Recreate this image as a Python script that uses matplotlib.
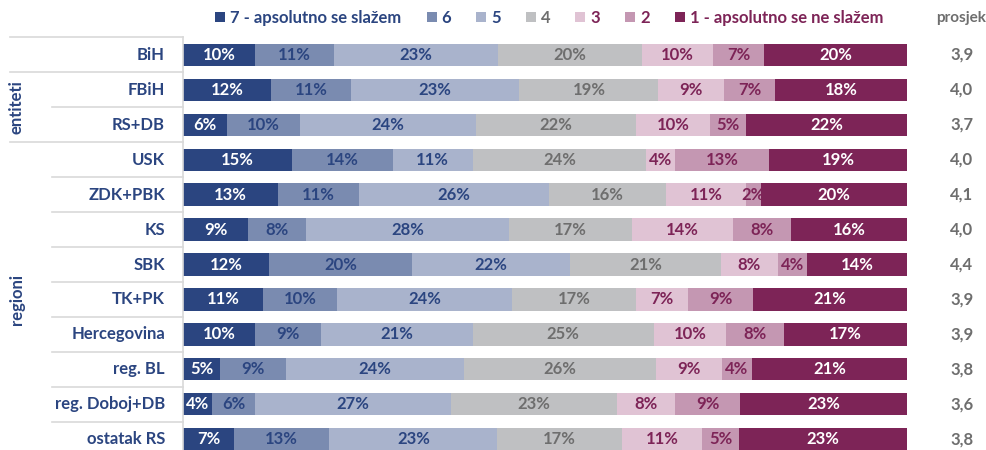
import numpy as np
import matplotlib.pyplot as plt
from matplotlib.patches import Patch
from matplotlib.transforms import blended_transform_factory

plt.rcParams['font.family'] = ['Lato', 'DejaVu Sans']
plt.rcParams['font.weight'] = 'bold'

categories = ['BiH', 'FBiH', 'RS+DB', 'USK', 'ZDK+PBK', 'KS', 'SBK', 'TK+PK',
              'Hercegovina', 'reg. BL', 'reg. Doboj+DB', 'ostatak RS']
series_names = ['7 - apsolutno se slažem', '6', '5', '4', '3', '2', '1 - apsolutno se ne slažem']
s7 = [10, 12, 6, 15, 13, 9, 12, 11, 10, 5, 4, 7]
s6 = [11, 11, 10, 14, 11, 8, 20, 10, 9, 9, 6, 13]
s5 = [23, 23, 24, 11, 26, 28, 22, 24, 21, 24, 27, 23]
s4 = [20, 19, 22, 24, 16, 17, 21, 17, 25, 26, 23, 17]
s3 = [10, 9, 10, 4, 11, 14, 8, 7, 10, 9, 8, 11]
s2 = [7, 7, 5, 13, 2, 8, 4, 9, 8, 4, 9, 5]
s1 = [20, 18, 22, 19, 20, 16, 14, 21, 17, 21, 23, 23]
prosjek = ['3,9', '4,0', '3,7', '4,0', '4,1', '4,0', '4,4', '3,9', '3,9', '3,8', '3,6', '3,8']

navy = '#2b4580'
purple = '#7d2457'
grey_txt = '#6e6e6e'
colors = ['#2b4580', '#7a8bb0', '#a9b3cc', '#bfc0c2', '#e0c3d4', '#c497b2', '#7d2457']
txt_colors = ['white', navy, navy, grey_txt, purple, purple, 'white']
leg_colors = [navy, navy, navy, grey_txt, purple, purple, purple]
fs = 12

W, H = 986, 450
fig = plt.figure(figsize=(W / 100, H / 100), dpi=100)
ax = fig.add_axes([183 / W, 0, (907 - 183) / W, 1 - 37.5 / H])

data = np.array([s7, s6, s5, s4, s3, s2, s1], dtype=float)
totals = data.sum(axis=0)
y = np.arange(len(categories))
left = np.zeros(len(categories))
for i, row in enumerate(data):
    w = row / totals * 100
    ax.barh(y, w, left=left, height=0.64, color=colors[i], edgecolor='none')
    for j in range(len(categories)):
        ax.text(left[j] + w[j] / 2, y[j], f'{int(row[j])}%', ha='center', va='center',
                color=txt_colors[i], fontsize=fs, fontweight='bold')
    left += w

ax.set_xlim(0, 100)
ax.set_ylim(11.31, -0.5)
ax.set_xticks([])
ax.set_yticks([])
for s in ['top', 'right', 'bottom']:
    ax.spines[s].set_visible(False)
ax.spines['left'].set_color('#d9d9d9')
ax.spines['left'].set_linewidth(1.2)

# category labels and averages
tr = blended_transform_factory(fig.transFigure, ax.transData)
for j, cat in enumerate(categories):
    ax.text(165 / W, j, cat, transform=tr, ha='right', va='center', color=navy,
            fontsize=fs, fontweight='bold')
    ax.text(962 / W, j, prosjek[j], transform=tr, ha='center', va='center', color=grey_txt,
            fontsize=fs, fontweight='bold')

# separator lines in label area
for yy in np.arange(-0.5, 11, 1.0):
    x0 = 10 if yy in (-0.5, 0.5, 2.5) else 52
    ax.plot([x0 / W, 183 / W], [yy, yy], transform=tr, color='#d9d9d9', lw=1.2, clip_on=False)

ax.text(17 / W, 1.5, 'entiteti', transform=tr, rotation=90, ha='center', va='center',
        color=navy, fontsize=fs, fontweight='bold')
ax.text(17 / W, 7, 'regioni', transform=tr, rotation=90, ha='center', va='center',
        color=navy, fontsize=fs, fontweight='bold')

handles = [Patch(facecolor=c, edgecolor='none') for c in colors]
leg = fig.legend(handles, series_names, loc='center', bbox_to_anchor=(0.557, 1 - 18 / H),
                 ncol=7, frameon=False, handlelength=0.6, handleheight=0.6,
                 handletextpad=0.3, columnspacing=1.5, prop={'size': fs, 'weight': 'bold'})
for t, c in zip(leg.get_texts(), leg_colors):
    t.set_color(c)
fig.text(961 / W, 1 - 18 / H, 'prosjek', ha='center', va='center', color=grey_txt,
         fontsize=11, fontweight='bold')

fig.savefig('out.png', dpi=100)
